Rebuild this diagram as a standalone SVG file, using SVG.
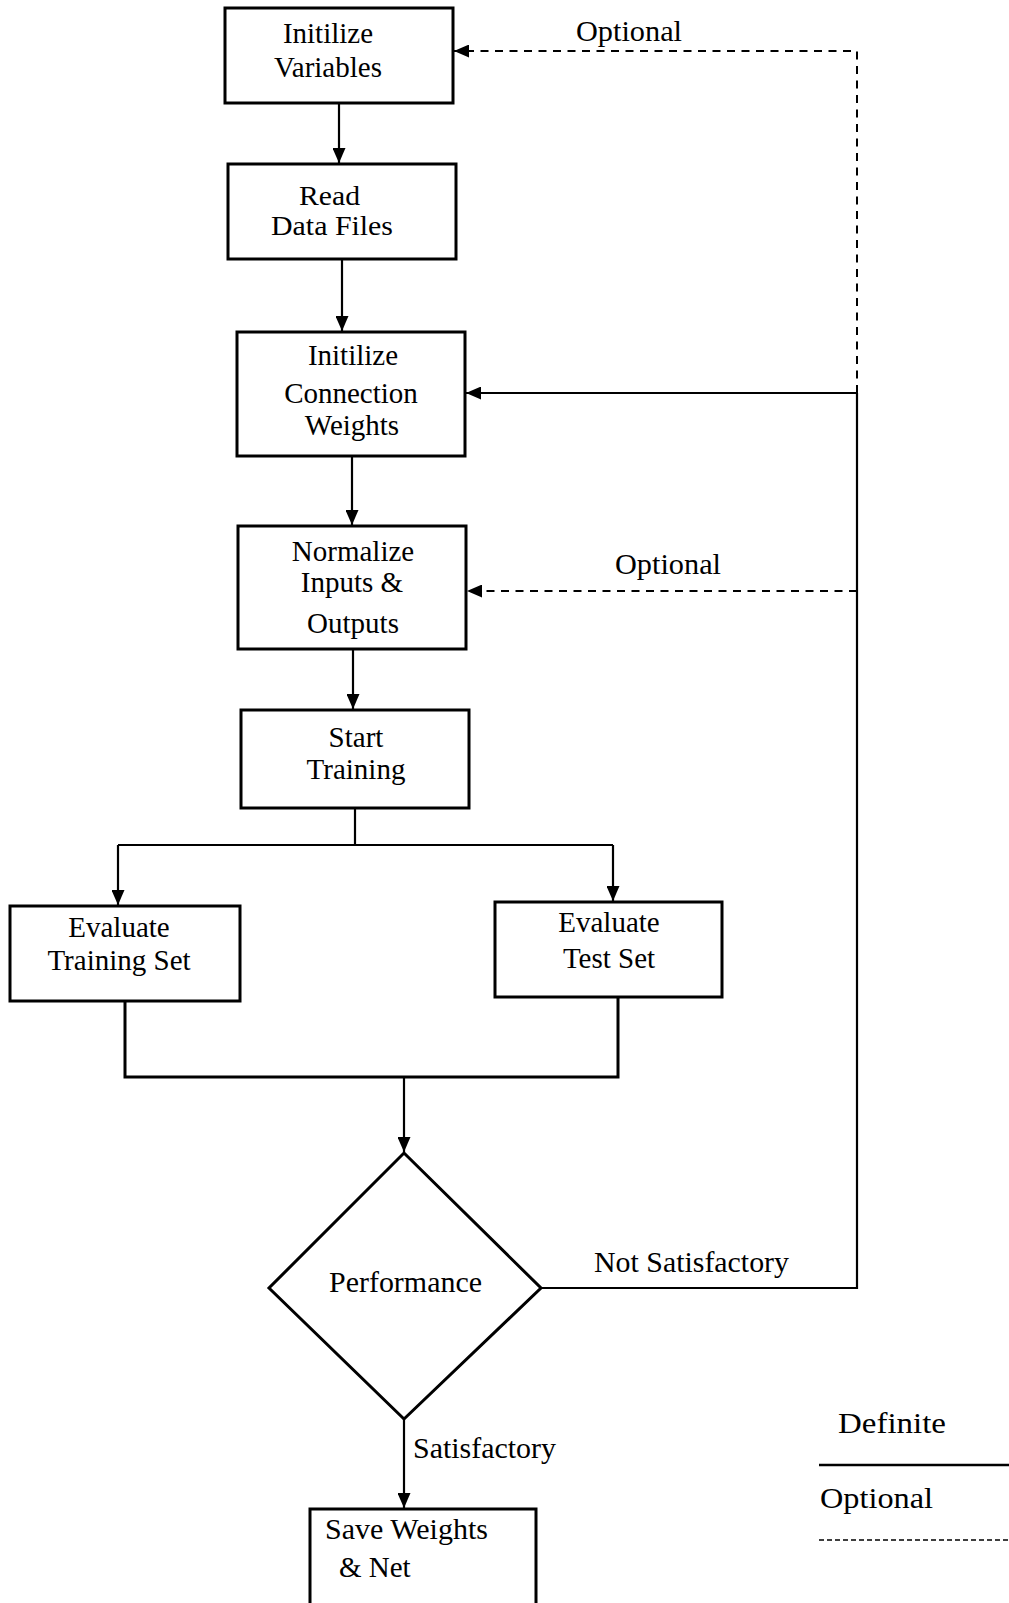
<svg xmlns="http://www.w3.org/2000/svg" width="1009" height="1603" viewBox="0 0 1009 1603">
  <style>
    .box { fill: #fff; stroke: #000; stroke-width: 3; }
    .lbl { font-family: "Liberation Serif", "Times New Roman", serif; font-size: 29px; fill: #000; text-anchor: middle; }
    .lbl-l { font-family: "Liberation Serif", "Times New Roman", serif; font-size: 29px; fill: #000; }
    .tight { font-size: 27px; }
    .wire { fill: none; stroke: #000; stroke-width: 2.2; }
    .wire-bold { fill: none; stroke: #000; stroke-width: 3; }
    .dash { fill: none; stroke: #000; stroke-width: 2; stroke-dasharray: 8 6.5; }
  </style>
  <defs>
    <marker id="arrow" markerUnits="userSpaceOnUse" markerWidth="15" markerHeight="13" refX="15" refY="6.5" orient="auto">
      <path d="M0,0 L15,6.5 L0,13 z" fill="#000"/>
    </marker>
  </defs>
  <rect width="1009" height="1603" fill="#fff"/>

  <g id="connectors">
    <path class="wire" d="M339,103 V163" marker-end="url(#arrow)"/>
    <path class="wire" d="M342,259 V331" marker-end="url(#arrow)"/>
    <path class="wire" d="M352,456 V525" marker-end="url(#arrow)"/>
    <path class="wire" d="M353,649 V709" marker-end="url(#arrow)"/>
    <path class="wire" d="M355,808 V845 M118,845 H613"/>
    <path class="wire" d="M118,845 V905" marker-end="url(#arrow)"/>
    <path class="wire" d="M613,845 V901" marker-end="url(#arrow)"/>
    <path class="wire-bold" d="M125,1001 V1077 H618 V997"/>
    <path class="wire" d="M404,1077 V1152" marker-end="url(#arrow)"/>
    <path class="wire" d="M541,1288 H857 V393"/>
    <path class="wire" d="M857,393 H466" marker-end="url(#arrow)"/>
    <path class="dash" d="M857,393 V51 H454" marker-end="url(#arrow)"/>
    <path class="dash" d="M857,591 H467" marker-end="url(#arrow)"/>
    <path class="wire" d="M404,1419 V1508" marker-end="url(#arrow)"/>
    <text class="lbl-l" x="576" y="41" textLength="106" lengthAdjust="spacingAndGlyphs">Optional</text>
    <text class="lbl-l" x="615" y="574" textLength="106" lengthAdjust="spacingAndGlyphs">Optional</text>
    <text class="lbl-l" x="594" y="1272" textLength="195" lengthAdjust="spacingAndGlyphs">Not Satisfactory</text>
    <text class="lbl-l" x="413" y="1458" textLength="143" lengthAdjust="spacingAndGlyphs">Satisfactory</text>
  </g>

  <g id="init-vars">
    <rect class="box" x="225" y="8" width="228" height="95"/>
    <text class="lbl" x="328" y="43">Initilize</text>
    <text class="lbl" x="328" y="77">Variables</text>
  </g>

  <g id="read-data">
    <rect class="box" x="228" y="164" width="228" height="95"/>
    <text class="lbl-l tight" x="299" y="205" textLength="61" lengthAdjust="spacingAndGlyphs">Read</text>
    <text class="lbl-l tight" x="271" y="235" textLength="122" lengthAdjust="spacingAndGlyphs">Data Files</text>
  </g>

  <g id="init-weights">
    <rect class="box" x="237" y="332" width="228" height="124"/>
    <text class="lbl" x="353" y="365">Initilize</text>
    <text class="lbl" x="351" y="403">Connection</text>
    <text class="lbl" x="352" y="435">Weights</text>
  </g>

  <g id="normalize">
    <rect class="box" x="238" y="526" width="228" height="123"/>
    <text class="lbl" x="353" y="561">Normalize</text>
    <text class="lbl" x="352" y="592">Inputs &amp;</text>
    <text class="lbl" x="353" y="633">Outputs</text>
  </g>

  <g id="start-training">
    <rect class="box" x="241" y="710" width="228" height="98"/>
    <text class="lbl" x="356" y="747">Start</text>
    <text class="lbl" x="356" y="779">Training</text>
  </g>

  <g id="eval-training">
    <rect class="box" x="10" y="906" width="230" height="95"/>
    <text class="lbl" x="119" y="937">Evaluate</text>
    <text class="lbl" x="119" y="970">Training Set</text>
  </g>

  <g id="eval-test">
    <rect class="box" x="495" y="902" width="227" height="95"/>
    <text class="lbl" x="609" y="932">Evaluate</text>
    <text class="lbl" x="609" y="968">Test Set</text>
  </g>

  <g id="performance">
    <polygon class="box" points="404,1153 541,1288 404,1419 269,1288"/>
    <text class="lbl-l" x="329" y="1292" textLength="153" lengthAdjust="spacingAndGlyphs">Performance</text>
  </g>

  <g id="save-weights">
    <rect class="box" x="310" y="1509" width="226" height="120"/>
    <text class="lbl-l" x="325" y="1539" textLength="163" lengthAdjust="spacingAndGlyphs">Save Weights</text>
    <text class="lbl-l" x="339" y="1577">&amp; Net</text>
  </g>

  <g id="legend">
    <text class="lbl-l" x="838" y="1433" textLength="108" lengthAdjust="spacingAndGlyphs">Definite</text>
    <line x1="819" y1="1465" x2="1009" y2="1465" stroke="#000" stroke-width="2.5"/>
    <text class="lbl-l" x="820" y="1508" textLength="113" lengthAdjust="spacingAndGlyphs">Optional</text>
    <line x1="819" y1="1540" x2="1009" y2="1540" stroke="#000" stroke-width="1.5" stroke-dasharray="5 3"/>
  </g>
</svg>
